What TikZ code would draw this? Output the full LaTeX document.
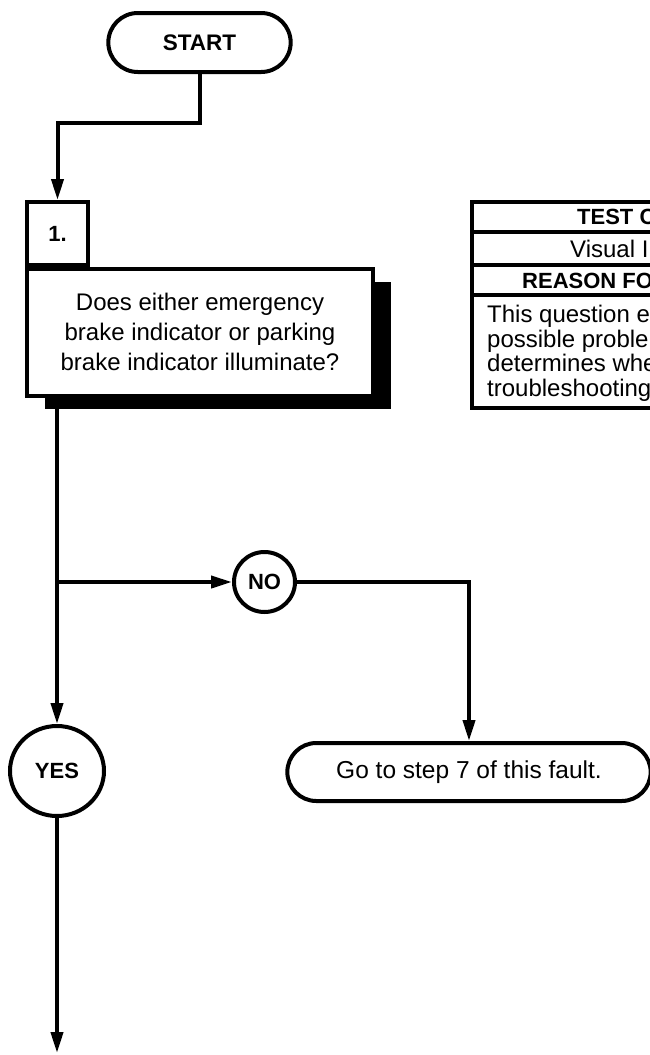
\documentclass[tikz,border=0pt]{standalone}
\usepackage{fontspec}
\setmainfont{Liberation Sans}
\usetikzlibrary{positioning, arrows.meta, shapes.misc, shapes.geometric, shadows}

\begin{document}
\begin{tikzpicture}[x=1pt, y=-1pt,
            terminal/.style={draw, line width=4pt, rounded rectangle, fill=white, font=\fontsize{24.5}{28}\selectfont},
            answer/.style={draw, line width=4pt, ellipse, inner sep=0pt, fill=white, font=\bfseries\fontsize{22}{26}\selectfont},
            stepbox/.style={draw, line width=4pt, rectangle, fill=white, inner sep=0pt},
            arrow/.style={-{Triangle[length=21pt, width=12pt]}, line width=4pt},
            tablerule/.style={line width=4pt},
            cell/.style={anchor=west, inner sep=0pt, font=\fontsize{24}{28}\selectfont}
        ]
            \useasboundingbox (0,0) rectangle (650,1055);
            \clip (0,0) rectangle (650,1055);

            % Start
            \node[terminal, font=\bfseries\fontsize{22.5}{26}\selectfont, minimum width=189pt, minimum height=59pt] (start) at (199.5,42.5) {START};

            % Step 1
            \node[stepbox, minimum width=346pt, minimum height=127pt, align=center, font=\fontsize{24}{30}\selectfont, drop shadow={shadow xshift=18pt, shadow yshift=-13pt, fill=black, opacity=1}] (q1) at (200,332) {Does either emergency\\brake indicator or parking\\brake indicator illuminate?};
            \node[stepbox, minimum width=61pt, minimum height=63pt, font=\bfseries\fontsize{22}{26}\selectfont] (num) at (57.5,233.5) {1.};

            % Test conditions table (cut at the right edge)
            \draw[tablerule] (472,202) rectangle (900,408);
            \draw[tablerule] (472,232) -- (900,232);
            \draw[tablerule] (472,265) -- (900,265);
            \draw[tablerule] (472,295) -- (900,295);
            \node[cell, font=\bfseries\fontsize{22}{26}\selectfont] (cond) at (577,217) {TEST C};
            \node[cell] (insp) at (570,249) {Visual I};
            \node[cell, font=\bfseries\fontsize{22}{26}\selectfont] (reason) at (522,280.5) {REASON FO};
            \node[cell, anchor=north west, align=left, font=\fontsize{24}{24.5}\selectfont] (why) at (487,305) {This question e\\possible proble\\determines whe\\troubleshooting};

            % Answers
            \node[answer, minimum width=61pt, minimum height=60pt] (no) at (264.5,582) {NO};
            \node[answer, minimum width=94pt, minimum height=90pt] (yes) at (57,771) {YES};
            \node[terminal, minimum width=370pt, minimum height=58pt] (goto) at (469,772) {Go to step 7 of this fault.};

            % Connectors
            \draw[arrow] (start.south) -- ++(0,49) -| (num.north);
            \draw[arrow] (q1.south -| yes.north) -- (yes.north);
            \coordinate (split) at (yes.north |- no.west);
            \draw[arrow] (split) -- (no.west);
            \draw[arrow] (no.east) -| (goto.north);
            \coordinate (next) at (57,1053);
            \draw[arrow] (yes.south) -- (next);

        \end{tikzpicture}
\end{document}
